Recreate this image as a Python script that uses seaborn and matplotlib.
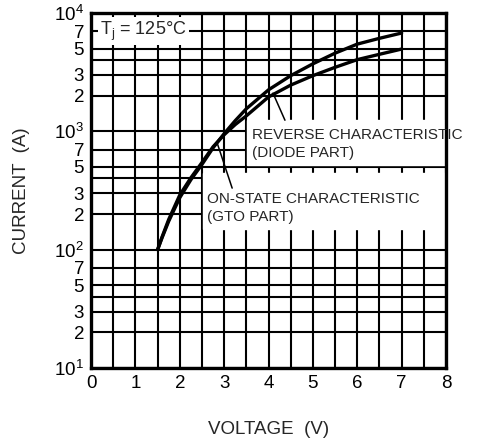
import numpy as np
import pandas as pd
import matplotlib
matplotlib.use("Agg")
import matplotlib.pyplot as plt
from matplotlib.ticker import NullLocator
import seaborn as sns

# values
voltage = [1.5, 1.6, 1.75, 2.0, 2.25, 2.5, 2.75, 3.0, 3.25, 3.5, 4.0, 4.5, 5.0, 5.5, 6.0, 6.5, 7.0]
gto_current = [100, 126, 174, 275, 390, 525, 725, 955, 1230, 1550, 2240, 2950, 3715, 4570, 5450, 6100, 6760]
diode_current = [100, 128, 180, 290, 405, 545, 740, 935, 1140, 1350, 1950, 2455, 2950, 3470, 4030, 4470, 4950]

x_ticks = [0, 1, 2, 3, 4, 5, 6, 7, 8]
y_ticks = [10, 20, 30, 40, 50, 70, 100, 200, 300, 400, 500, 700,
           1000, 2000, 3000, 4000, 5000, 7000, 10000]
y_tick_labels = ['10$^{1}$', '2', '3', '', '5', '7',
                 '10$^{2}$', '2', '3', '', '5', '7',
                 '10$^{3}$', '2', '3', '', '5', '7', '10$^{4}$']

df = pd.concat([
    pd.DataFrame({'voltage': voltage, 'current': gto_current, 'curve': 'GTO'}),
    pd.DataFrame({'voltage': voltage, 'current': diode_current, 'curve': 'Diode'}),
])

sns.set_style('white')
plt.rcParams['font.family'] = ['Liberation Sans', 'DejaVu Sans']
plt.rcParams['mathtext.fontset'] = 'custom'
plt.rcParams['mathtext.rm'] = 'Liberation Sans'
plt.rcParams['mathtext.default'] = 'regular'

fig = plt.figure(figsize=(4.95, 4.45), dpi=100)
ax = fig.add_axes([0.184, 0.173, 0.717, 0.798])

sns.lineplot(data=df, x='voltage', y='current', hue='curve', palette=['black', 'black'],
             estimator=None, legend=False, linewidth=2.4, ax=ax, zorder=3)

ax.set_yscale('log')
ax.set_xlim(0, 8)
ax.set_ylim(10, 10000)
ax.set_xticks(x_ticks)
ax.set_xticks(np.arange(0, 8.5, 0.5), minor=True)
ax.set_yticks(y_ticks, y_tick_labels)
ax.yaxis.set_minor_locator(NullLocator())
ax.tick_params(which='both', length=0, labelsize=13.5, pad=5, colors='black')
ax.grid(True, which='both', color='black', linewidth=1.5)
ax.set_axisbelow(True)
for sp in ax.spines.values():
    sp.set_linewidth(2.4)
    sp.set_color('black')

# white label backgrounds that hide the grid
ax.axhspan(520, 1250, xmin=3.52 / 8, xmax=1, color='white', zorder=1)
ax.axhspan(150, 440, xmin=2.52 / 8, xmax=1, color='white', zorder=1)

ax.text(3.62, 780, 'REVERSE CHARACTERISTIC\n(DIODE PART)', fontsize=11,
        ha='left', va='center', linespacing=1.35, zorder=4)
ax.text(2.61, 225, 'ON-STATE CHARACTERISTIC\n(GTO PART)', fontsize=11,
        ha='left', va='center', linespacing=1.35, zorder=4)
ax.text(0.2, 7000, 'T$_{j}$ = 125°C', fontsize=13, ha='left', va='center', zorder=4,
        bbox=dict(fc='white', ec='none', pad=1.5))

# leader lines
ax.plot([4.37, 4.1], [1240, 2100], color='black', lw=1.1, zorder=4)
ax.plot([3.18, 2.84], [331, 800], color='black', lw=1.1, zorder=4)

ax.set_xlabel('VOLTAGE  (V)', fontsize=13.5)
ax.set_ylabel('CURRENT  (A)', fontsize=13.5)
ax.xaxis.set_label_coords(0.5, -0.15)
ax.yaxis.set_label_coords(-0.173, 0.5)

fig.savefig('out.png', dpi=100)
